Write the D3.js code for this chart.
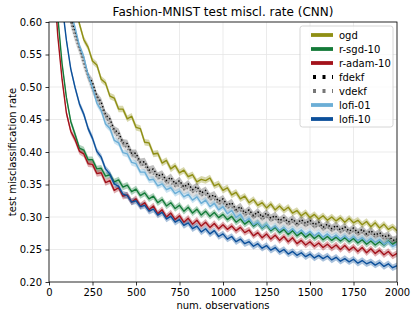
<!DOCTYPE html>
<html lang="en">
  <head>
    <meta charset="utf-8">
    <title>Fashion-MNIST test miscl. rate (CNN)</title>
    <style type="text/css">
      body{
        margin: 0;
        background-color: white;
      }svg{
        display: block;
        font-family: 'DejaVu Sans', sans-serif;
      }.tick text{
        font-size: 10px;
        fill: #000;
      }.tick line{
        stroke: #000;
        stroke-width: 0.8;
      }.grid line{
        stroke: #e6e6e6;
        stroke-width: 0.8;
      }
    </style>
  </head>
  <body>

    <div id='chart'></div>

    <script src="https://d3js.org/d3.v7.min.js"></script>
    <script type="text/javascript">

      // x positions of the samples (num. observations)
      const observations = [0,25,50,75,100,125,150,175,200,225,250,275,300,325,350,375,400,425,450,475,
        500,525,550,575,600,625,650,675,700,725,750,775,800,825,850,875,900,925,950,975,
        1000,1025,1050,1075,1100,1125,1150,1175,1200,1225,1250,1275,1300,1325,1350,1375,1400,1425,1450,1475,
        1500,1525,1550,1575,1600,1625,1650,1675,1700,1725,1750,1775,1800,1825,1850,1875,1900,1925,1950,1975,2000];

      const ogd = [0.950,0.880,0.810,0.755,0.710,0.668,0.628,0.597,0.573,0.561,0.540,0.534,0.512,0.506,0.486,0.483,0.466,0.466,0.451,0.455,
        0.438,0.436,0.415,0.414,0.397,0.398,0.383,0.387,0.374,0.379,0.368,0.372,0.362,0.365,0.354,0.358,0.356,0.360,0.348,0.351,
        0.341,0.345,0.334,0.338,0.328,0.332,0.322,0.327,0.318,0.322,0.314,0.320,0.311,0.317,0.310,0.315,0.306,0.310,0.302,0.307,
        0.299,0.304,0.297,0.302,0.295,0.300,0.294,0.299,0.292,0.298,0.291,0.295,0.288,0.293,0.285,0.291,0.283,0.289,0.281,0.285,0.279];

      const rSgd10 = [0.900,0.720,0.610,0.536,0.484,0.447,0.427,0.406,0.403,0.388,0.388,0.374,0.375,0.363,0.365,0.354,0.357,0.346,0.349,0.339,
        0.343,0.333,0.337,0.328,0.332,0.322,0.327,0.317,0.322,0.313,0.318,0.309,0.315,0.306,0.312,0.303,0.309,0.301,0.307,0.299,
        0.304,0.296,0.301,0.292,0.297,0.289,0.294,0.286,0.291,0.283,0.288,0.279,0.284,0.276,0.281,0.273,0.279,0.271,0.276,0.269,
        0.274,0.267,0.272,0.265,0.270,0.264,0.269,0.263,0.268,0.262,0.267,0.260,0.265,0.258,0.263,0.257,0.262,0.257,0.263,0.258,0.263];

      const rAdam10 = [0.860,0.680,0.580,0.512,0.460,0.432,0.419,0.401,0.397,0.382,0.381,0.367,0.368,0.353,0.356,0.341,0.345,0.332,0.334,0.323,
        0.328,0.317,0.322,0.311,0.317,0.305,0.311,0.300,0.306,0.296,0.302,0.292,0.298,0.289,0.295,0.286,0.292,0.284,0.290,0.282,
        0.288,0.281,0.286,0.279,0.284,0.276,0.280,0.271,0.276,0.268,0.274,0.266,0.272,0.264,0.270,0.262,0.268,0.259,0.264,0.257,
        0.262,0.255,0.260,0.253,0.258,0.252,0.257,0.250,0.256,0.249,0.254,0.247,0.253,0.245,0.251,0.244,0.249,0.242,0.247,0.240,0.244];

      const fdekf = [0.980,0.900,0.800,0.720,0.655,0.605,0.585,0.561,0.544,0.517,0.507,0.486,0.477,0.457,0.451,0.434,0.430,0.414,0.413,0.398,
        0.398,0.384,0.385,0.372,0.374,0.363,0.366,0.356,0.361,0.351,0.356,0.346,0.351,0.342,0.347,0.337,0.341,0.331,0.334,0.324,
        0.328,0.318,0.322,0.311,0.316,0.306,0.311,0.302,0.308,0.300,0.306,0.298,0.302,0.294,0.299,0.292,0.297,0.290,0.296,0.290,
        0.295,0.288,0.292,0.284,0.289,0.282,0.287,0.280,0.285,0.278,0.283,0.276,0.281,0.274,0.279,0.272,0.276,0.269,0.272,0.264,0.266];

      const vdekf = [0.975,0.895,0.795,0.715,0.650,0.598,0.576,0.557,0.534,0.515,0.496,0.484,0.467,0.455,0.441,0.432,0.421,0.413,0.405,0.397,
        0.391,0.382,0.378,0.369,0.366,0.360,0.358,0.353,0.352,0.347,0.348,0.342,0.344,0.338,0.339,0.333,0.334,0.327,0.327,0.320,
        0.321,0.314,0.315,0.308,0.310,0.303,0.305,0.299,0.302,0.296,0.300,0.294,0.297,0.290,0.294,0.288,0.292,0.287,0.291,0.286,
        0.290,0.284,0.287,0.281,0.284,0.279,0.282,0.277,0.280,0.275,0.278,0.273,0.276,0.271,0.274,0.269,0.272,0.266,0.268,0.262,0.263];

      const lofi01 = [0.970,0.890,0.790,0.710,0.650,0.615,0.591,0.563,0.546,0.518,0.499,0.475,0.464,0.443,0.436,0.418,0.414,0.399,0.397,0.384,
        0.382,0.369,0.369,0.357,0.358,0.348,0.351,0.342,0.345,0.336,0.340,0.331,0.335,0.326,0.331,0.321,0.326,0.316,0.321,0.311,
        0.316,0.305,0.310,0.299,0.304,0.293,0.298,0.288,0.292,0.284,0.289,0.281,0.286,0.279,0.284,0.277,0.282,0.275,0.280,0.273,
        0.278,0.271,0.276,0.269,0.274,0.268,0.272,0.266,0.271,0.265,0.270,0.264,0.268,0.262,0.267,0.261,0.265,0.258,0.262,0.255,0.258];

      const lofi10 = [0.920,0.790,0.690,0.628,0.572,0.528,0.499,0.474,0.458,0.436,0.421,0.401,0.392,0.374,0.366,0.351,0.347,0.335,0.333,0.323,
        0.325,0.316,0.318,0.309,0.312,0.303,0.307,0.297,0.301,0.292,0.296,0.287,0.291,0.282,0.286,0.277,0.282,0.274,0.279,0.270,
        0.274,0.266,0.270,0.262,0.266,0.259,0.262,0.255,0.259,0.252,0.256,0.249,0.253,0.246,0.250,0.243,0.247,0.241,0.245,0.239,
        0.243,0.237,0.241,0.236,0.240,0.234,0.238,0.232,0.236,0.231,0.235,0.229,0.233,0.228,0.231,0.226,0.230,0.224,0.228,0.222,0.225];

      const seriesNames = ['ogd', 'r-sgd-10', 'r-adam-10', 'fdekf', 'vdekf', 'lofi-01', 'lofi-10'];
      const seriesValues = [ogd, rSgd10, rAdam10, fdekf, vdekf, lofi01, lofi10];
      // half width of the shaded spread round each mean curve
      const seriesSpread = [0.005, 0.005, 0.005, 0.006, 0.007, 0.005, 0.005];

      const xTicks = [0, 250, 500, 750, 1000, 1250, 1500, 1750, 2000];
      const yTicks = [0.20, 0.25, 0.30, 0.35, 0.40, 0.45, 0.50, 0.55, 0.60];

      const seriesColors = ['#8f8f14', '#137a38', '#a3121b', '#000000', '#777777', '#6baed6', '#0b4f9a'];
      const seriesDotted = [false, false, false, true, true, false, false];

      const w = 417;
      const h = 318;
      const plotLeft = 49, plotRight = 397, plotTop = 22, plotBottom = 282;

      const svg = d3.select('#chart').append('svg').attr('width', w).attr('height', h);

      const scaleX = d3.scaleLinear().domain([0, 2000]).range([plotLeft, plotRight]);
      const scaleY = d3.scaleLinear().domain([0.20, 0.60]).range([plotBottom, plotTop]);

      // grid
      const grid = svg.append('g').attr('class', 'grid');
      grid.selectAll('.gx').data(xTicks).enter().append('line')
          .attr('x1', d => scaleX(d)).attr('x2', d => scaleX(d)).attr('y1', plotTop).attr('y2', plotBottom);
      grid.selectAll('.gy').data(yTicks).enter().append('line')
          .attr('x1', plotLeft).attr('x2', plotRight).attr('y1', d => scaleY(d)).attr('y2', d => scaleY(d));

      svg.append('clipPath').attr('id', 'plotclip').append('rect')
          .attr('x', plotLeft).attr('y', plotTop).attr('width', plotRight - plotLeft).attr('height', plotBottom - plotTop);

      const plot = svg.append('g').attr('clip-path', 'url(#plotclip)');

      seriesNames.forEach(function(name, k){
        const s = seriesSpread[k];
        const area = d3.area()
            .x((d, i) => scaleX(observations[i]))
            .y0(d => scaleY(d - s))
            .y1(d => scaleY(d + s));
        plot.append('path').datum(seriesValues[k]).attr('d', area)
            .attr('fill', seriesColors[k]).attr('fill-opacity', seriesDotted[k] ? 0.25 : 0.35);
      });

      seriesNames.forEach(function(name, k){
        const line = d3.line()
            .x((d, i) => scaleX(observations[i]))
            .y(d => scaleY(d));
        const p = plot.append('path').datum(seriesValues[k]).attr('d', line)
            .attr('fill', 'none').attr('stroke', seriesColors[k])
            .attr('stroke-width', 1.4).attr('stroke-linejoin', 'round');
        if (seriesDotted[k]) p.attr('stroke-dasharray', '1.4,2.2');
      });

      // axes
      const xAxis = d3.axisBottom(scaleX).tickValues(xTicks).tickSize(3.5).tickPadding(3.5).tickFormat(d3.format('d'));
      const yAxis = d3.axisLeft(scaleY).tickValues(yTicks).tickSize(3.5).tickPadding(3.5).tickFormat(d3.format('.2f'));

      const gx = svg.append('g').attr('transform', 'translate(0,' + plotBottom + ')').call(xAxis);
      const gy = svg.append('g').attr('transform', 'translate(' + plotLeft + ',0)').call(yAxis);
      gx.select('.domain').remove();
      gy.select('.domain').remove();
      svg.selectAll('.tick text').attr('font-family', "'DejaVu Sans', sans-serif");

      svg.append('rect').attr('x', plotLeft).attr('y', plotTop)
          .attr('width', plotRight - plotLeft).attr('height', plotBottom - plotTop)
          .attr('fill', 'none').attr('stroke', '#000').attr('stroke-width', 0.8);

      svg.append('text').text('Fashion-MNIST test miscl. rate (CNN)')
          .attr('x', (plotLeft + plotRight) / 2).attr('y', 16).attr('text-anchor', 'middle')
          .style('font-size', '12px');

      svg.append('text').text('num. observations')
          .attr('x', (plotLeft + plotRight) / 2).attr('y', 308.5).attr('text-anchor', 'middle')
          .style('font-size', '10px');

      svg.append('text').text('test misclassification rate')
          .attr('transform', 'translate(16,' + ((plotTop + plotBottom) / 2) + ') rotate(-90)')
          .attr('text-anchor', 'middle').style('font-size', '10px');

      // legend
      const lg = svg.append('g');
      lg.append('rect').attr('x', 300).attr('y', 26).attr('width', 93).attr('height', 101).attr('rx', 2.5)
          .attr('fill', 'white').attr('fill-opacity', 0.8).attr('stroke', '#cccccc').attr('stroke-width', 0.8);

      seriesNames.forEach(function(name, k){
        const yy = 35 + k * 14;
        const ln = lg.append('line').attr('x1', 311).attr('x2', 333).attr('y1', yy).attr('y2', yy)
            .attr('stroke', seriesColors[k]).attr('stroke-width', 3.8);
        if (seriesDotted[k]) ln.attr('stroke-dasharray', '3,6.5').attr('stroke-dashoffset', -2);
        lg.append('text').text(name).attr('x', 339).attr('y', yy).attr('dy', '0.35em')
            .style('font-size', '10px');
      });

    </script>
  </body>
</html>
